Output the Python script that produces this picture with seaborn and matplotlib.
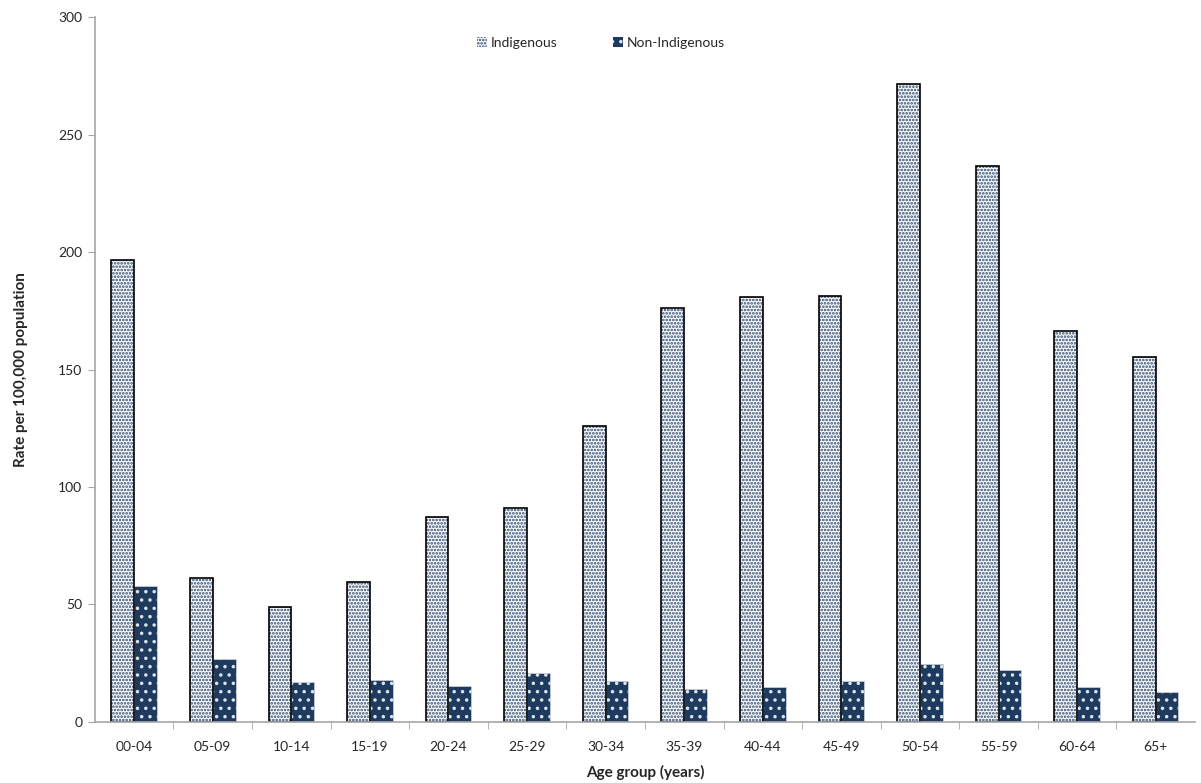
import matplotlib
matplotlib.use('Agg')
import matplotlib.pyplot as plt
from matplotlib.patches import Rectangle, Patch
import seaborn as sns
import pandas as pd

# Data
age_groups = ['00-04', '05-09', '10-14', '15-19', '20-24', '25-29', '30-34',
              '35-39', '40-44', '45-49', '50-54', '55-59', '60-64', '65+']
indigenous = [196.6, 61.3, 48.9, 59.6, 87.2, 91.1, 126.0,
              176.2, 180.9, 181.3, 271.5, 236.6, 166.4, 155.3]
non_indigenous = [57.9, 26.8, 17.0, 17.9, 15.3, 20.9, 17.4,
                  14.0, 14.9, 17.4, 24.7, 22.1, 14.9, 12.8]
groups = ['Indigenous', 'Non-Indigenous']

df = pd.DataFrame({'Age group': age_groups * 2,
                   'Rate': indigenous + non_indigenous,
                   'Group': [groups[0]] * 14 + [groups[1]] * 14})

navy = '#1F3A5F'

sns.set_style('white')
plt.rcParams['font.family'] = ['Lato', 'DejaVu Sans']
plt.rcParams['hatch.linewidth'] = 1.3

fig = plt.figure(figsize=(12.01, 7.83), dpi=100)
ax = fig.add_axes([0.079, 0.078, 0.916, 0.9])

sns.barplot(data=df, x='Age group', y='Rate', hue='Group', order=age_groups,
            hue_order=groups, palette=['white', navy], width=0.58,
            errorbar=None, legend=False, ax=ax)

n = len(age_groups)
for i, p in enumerate(ax.patches[:2 * n]):
    if i < n:
        # white bars with dense navy dots and black outline
        p.set_facecolor('white')
        p.set_edgecolor('#2A4770')
        p.set_hatch('.....')
        p.set_linewidth(0)
        ax.add_patch(Rectangle(p.get_xy(), p.get_width(), p.get_height(),
                               fill=False, edgecolor='black', linewidth=1.2))
    else:
        # navy bars with sparse white dots
        p.set_facecolor(navy)
        p.set_edgecolor('#DDE3EA')
        p.set_hatch('..')
        p.set_linewidth(0.4)

ax.set_xlim(-0.5, n - 0.5)
ax.set_ylim(0, 300)
ax.set_yticks(range(0, 301, 50))

for s in ['top', 'right']:
    ax.spines[s].set_visible(False)
for s in ['left', 'bottom']:
    ax.spines[s].set_color('#A6A6A6')
    ax.spines[s].set_linewidth(1.2)

ax.tick_params(axis='y', which='major', left=True, length=5, color='#A6A6A6',
               labelsize=10, pad=4)
ax.tick_params(axis='x', which='major', bottom=False, labelsize=10, pad=10)
ax.set_xticks([i + 0.5 for i in range(n - 1)], minor=True)
ax.tick_params(axis='x', which='minor', bottom=True, length=5, color='#A6A6A6')

ax.set_xlabel('Age group (years)', fontsize=11, fontweight='bold', labelpad=9)
ax.set_ylabel('Rate per 100,000 population', fontsize=11, fontweight='bold', labelpad=22)

handles = [Patch(facecolor='white', edgecolor='#2A4770', hatch='.....', linewidth=0),
           Patch(facecolor=navy, edgecolor='#DDE3EA', hatch='..', linewidth=0)]
ax.legend(handles, groups, loc='upper center', bbox_to_anchor=(0.46, 0.99),
          ncol=2, frameon=False, fontsize=10, handlelength=0.7,
          handleheight=0.7, handletextpad=0.3, columnspacing=4)

fig.savefig('out.png', dpi=100)
